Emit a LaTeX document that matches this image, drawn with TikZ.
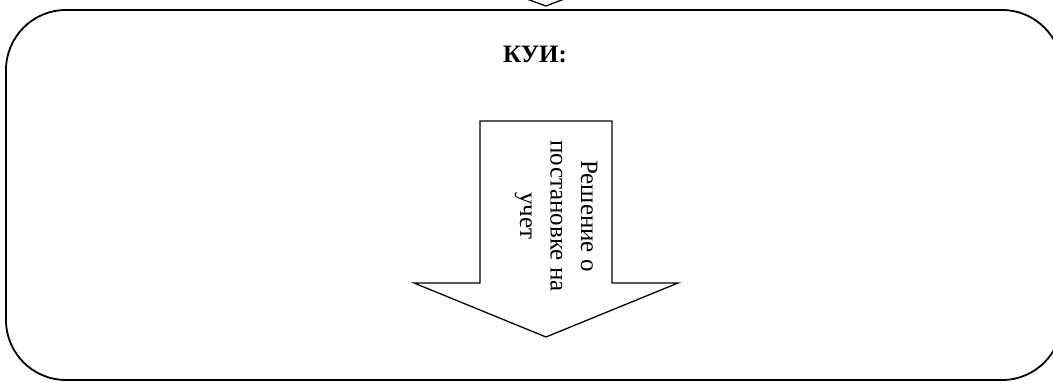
\documentclass[tikz,border=0pt]{standalone}
\usepackage{fontspec}
\setmainfont{Liberation Serif}
\begin{document}
\begin{tikzpicture}[x=1pt,y=-1pt,
  frame/.style={draw=black,line width=1.8pt,rounded corners=60pt},
  blockarrow/.style={draw=black,line width=1.3pt,fill=white,line join=miter},
  lbl/.style={font=\fontsize{25}{30.5}\selectfont,align=center,inner sep=0pt}]
\useasboundingbox (0,0) rectangle (1053,383);
\begin{scope}
\clip (0,0) rectangle (1053,383);
\draw[frame] (6,10) rectangle (1062,380);
\draw[blockarrow] (524,-2) -- (546,6) -- (567,-2);
\end{scope}
\node[lbl,font=\fontsize{25}{30}\selectfont\bfseries] (title) at (535,54) {КУИ:};
\draw[blockarrow] (480,121) -- (612,121) -- (612,283) -- (678,283) -- (546,337)
  -- (414,283) -- (480,283) -- cycle;
\node[lbl,rotate=-90] (dec) at (556,216) {Решение о\\постановке на\\учет};
\end{tikzpicture}
\end{document}
